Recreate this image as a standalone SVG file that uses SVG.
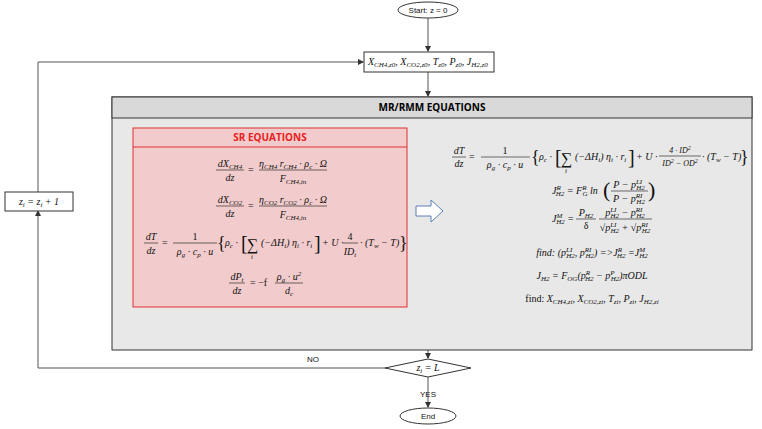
<svg xmlns="http://www.w3.org/2000/svg" width="762" height="429" viewBox="0 0 762 429">
<defs>
<marker id="ar" markerWidth="6" markerHeight="6" refX="5" refY="3" orient="auto"><path d="M0,0 L6,3 L0,6 z" fill="#333"/></marker>
<style>
.ln{stroke:#555;stroke-width:1;fill:none}
.m{font-family:"Liberation Serif",serif;font-size:10px;font-style:italic;fill:#111}
.f{stroke:#111;stroke-width:0.6}
.h{font-family:"Open Sans","Liberation Sans",sans-serif;font-weight:bold;font-size:10px;text-anchor:middle}
.s{font-family:"Liberation Sans",sans-serif;font-size:8px;text-anchor:middle;fill:#111}
.c{text-anchor:middle}
.b{font-size:7px}
</style>
</defs>
<rect width="762" height="429" fill="#fff"/>
<g id="connectors">
<line class="ln" x1="428" y1="18" x2="428" y2="51" marker-end="url(#ar)"/>
<line class="ln" x1="428" y1="72" x2="428" y2="96" marker-end="url(#ar)"/>
<line class="ln" x1="428" y1="350" x2="428" y2="358" marker-end="url(#ar)"/>
<line class="ln" x1="428" y1="377" x2="428" y2="407" marker-end="url(#ar)"/>
<polyline class="ln" points="386,368 38,368 38,211" marker-end="url(#ar)"/>
<polyline class="ln" points="38,192 38,62 363,62" marker-end="url(#ar)"/>
<text class="s" x="313" y="362">NO</text>
<text class="s" x="428" y="397">YES</text>
</g>
<g id="start"><ellipse cx="428" cy="10" rx="30" ry="8" fill="#fff" stroke="#333"/><text class="s" x="428" y="13">Start: z = 0</text></g>
<g id="init"><rect x="364" y="52" width="130" height="20" fill="#fff" stroke="#333"/>
<text class="m" x="368" y="65" font-size="9">X<tspan class="b" dy="2">CH4,z0</tspan><tspan dy="-2">, X</tspan><tspan class="b" dy="2">CO2,z0</tspan><tspan dy="-2">, T</tspan><tspan class="b" dy="2">z0</tspan><tspan dy="-2">, P</tspan><tspan class="b" dy="2">z0</tspan><tspan dy="-2">, J</tspan><tspan class="b" dy="2">H2,z0</tspan></text></g>
<g id="mr">
<rect x="112" y="97" width="640" height="253" fill="#e8e8e8" stroke="#333"/>
<rect x="112" y="97" width="640" height="21" fill="#d9d9d9" stroke="#333"/>
<text class="h" x="432" y="111">MR/RMM EQUATIONS</text>
</g>
<g id="mr-eqs" class="m">
<text x="459" y="154" class="c">dT</text><line class="f" x1="452" y1="157" x2="466" y2="157"/><text x="459" y="167" class="c">dz</text>
<text x="469" y="160" font-style="normal">=</text>
<text x="505" y="154" class="c" font-style="normal">1</text><line class="f" x1="481" y1="157" x2="530" y2="157"/>
<text x="505" y="168" class="c">ρ<tspan class="b" dy="2">g</tspan><tspan dy="-2"> · c</tspan><tspan class="b" dy="2">p</tspan><tspan dy="-2"> · u</tspan></text>
<text x="531" y="163" font-size="18" font-style="normal">{</text>
<text x="539" y="160">ρ<tspan class="b" dy="2">c</tspan><tspan dy="-2"> ·</tspan></text>
<text x="555" y="164" font-size="20" font-style="normal">[</text>
<text x="561" y="164" font-size="16" font-style="normal">∑</text><text x="565" y="173" class="b">i</text>
<text x="575" y="160">(−ΔH<tspan class="b" dy="2">i</tspan><tspan dy="-2">) η</tspan><tspan class="b" dy="2">i</tspan><tspan dy="-2"> · r</tspan><tspan class="b" dy="2">i</tspan></text>
<text x="628" y="164" font-size="20" font-style="normal">]</text>
<text x="636" y="160">+ U ·</text>
<text x="680" y="153" class="c" font-size="8">4 · ID<tspan font-size="6" dy="-3">2</tspan></text><line class="f" x1="659" y1="156" x2="701" y2="156"/>
<text x="680" y="166" class="c" font-size="8">ID<tspan font-size="6" dy="-3">2</tspan><tspan dy="3"> − OD</tspan><tspan font-size="6" dy="-3">2</tspan></text>
<text x="702" y="160">· (T<tspan class="b" dy="2">w</tspan><tspan dy="-2"> − T)</tspan></text>
<text x="740" y="163" font-size="18" font-style="normal">}</text>
<text x="552" y="194">J<tspan class="b" dy="-4">R</tspan><tspan class="b" dy="6" dx="-5">H2</tspan><tspan dy="-2"> = F</tspan><tspan class="b" dy="-4">R</tspan><tspan class="b" dy="6" dx="-4">G</tspan><tspan dy="-2"> ln</tspan></text>
<text x="603" y="197" font-size="22" font-style="normal">(</text>
<text x="629" y="188" class="c">P − p<tspan class="b" dy="-4">LI</tspan><tspan class="b" dy="6" dx="-6">H2</tspan></text><line class="f" x1="611" y1="191" x2="648" y2="191"/>
<text x="629" y="202" class="c">P − p<tspan class="b" dy="-4">RI</tspan><tspan class="b" dy="6" dx="-6">H2</tspan></text>
<text x="648" y="197" font-size="22" font-style="normal">)</text>
<text x="552" y="222">J<tspan class="b" dy="-4">M</tspan><tspan class="b" dy="6" dx="-6">H2</tspan><tspan dy="-2"> =</tspan></text>
<text x="586" y="216" class="c">P<tspan class="b" dy="2">H2</tspan></text><line class="f" x1="576" y1="219" x2="596" y2="219"/><text x="586" y="229" class="c" font-style="normal">δ</text>
<text x="625" y="216" class="c">p<tspan class="b" dy="-4">LI</tspan><tspan class="b" dy="6" dx="-6">H2</tspan><tspan dy="-2"> − p</tspan><tspan class="b" dy="-4">RI</tspan><tspan class="b" dy="6" dx="-6">H2</tspan></text><line class="f" x1="599" y1="219" x2="652" y2="219"/>
<text x="625" y="231" class="c">√p<tspan class="b" dy="-4">LI</tspan><tspan class="b" dy="6" dx="-6">H2</tspan><tspan dy="-2"> + √p</tspan><tspan class="b" dy="-4">RI</tspan><tspan class="b" dy="6" dx="-6">H2</tspan></text>
<text x="592" y="256" class="c">find: (p<tspan class="b" dy="-4">LI</tspan><tspan class="b" dy="6" dx="-6">H2</tspan><tspan dy="-2">, p</tspan><tspan class="b" dy="-4">RI</tspan><tspan class="b" dy="6" dx="-6">H2</tspan><tspan dy="-2">) =&gt;J</tspan><tspan class="b" dy="-4">R</tspan><tspan class="b" dy="6" dx="-5">H2</tspan><tspan dy="-2"> =J</tspan><tspan class="b" dy="-4">M</tspan><tspan class="b" dy="6" dx="-6">H2</tspan></text>
<text x="592" y="279" class="c">J<tspan class="b" dy="2">H2</tspan><tspan dy="-2"> = F</tspan><tspan class="b" dy="2">OG</tspan><tspan dy="-2">(p</tspan><tspan class="b" dy="-4">R</tspan><tspan class="b" dy="6" dx="-5">H2</tspan><tspan dy="-2"> − p</tspan><tspan class="b" dy="-4">P</tspan><tspan class="b" dy="6" dx="-4">H2</tspan><tspan dy="-2">)πODL</tspan></text>
<text x="592" y="302" class="c"><tspan font-style="normal">find: </tspan>X<tspan class="b" dy="2">CH4,zi</tspan><tspan dy="-2">, X</tspan><tspan class="b" dy="2">CO2,zi</tspan><tspan dy="-2">, T</tspan><tspan class="b" dy="2">zi</tspan><tspan dy="-2">, P</tspan><tspan class="b" dy="2">zi</tspan><tspan dy="-2">, J</tspan><tspan class="b" dy="2">H2,zi</tspan></text>
</g>
<g id="sr">
<rect x="133" y="128" width="274" height="179" fill="#f2cccc" stroke="#e03030"/>
<line x1="133" y1="147" x2="407" y2="147" stroke="#e03030"/>
<text class="h" x="270" y="141" fill="#e82020">SR EQUATIONS</text>
<g class="m">
<text x="230" y="167" class="c">dX<tspan class="b" dy="2">CH4</tspan></text><line class="f" x1="216" y1="170" x2="244" y2="170"/><text x="230" y="181" class="c">dz</text>
<text x="248" y="173" font-style="normal">=</text>
<text x="293" y="167" class="c">η<tspan class="b" dy="2">CH4</tspan><tspan dy="-2"> r</tspan><tspan class="b" dy="2">CH4</tspan><tspan dy="-2"> · ρ</tspan><tspan class="b" dy="2">c</tspan><tspan dy="-2"> · Ω</tspan></text><line class="f" x1="259" y1="170" x2="327" y2="170"/>
<text x="293" y="182" class="c">F<tspan class="b" dy="2">CH4,in</tspan></text>
<text x="230" y="203" class="c">dX<tspan class="b" dy="2">CO2</tspan></text><line class="f" x1="216" y1="206" x2="244" y2="206"/><text x="230" y="217" class="c">dz</text>
<text x="248" y="209" font-style="normal">=</text>
<text x="293" y="203" class="c">η<tspan class="b" dy="2">CO2</tspan><tspan dy="-2"> r</tspan><tspan class="b" dy="2">CO2</tspan><tspan dy="-2"> · ρ</tspan><tspan class="b" dy="2">c</tspan><tspan dy="-2"> · Ω</tspan></text><line class="f" x1="259" y1="206" x2="327" y2="206"/>
<text x="293" y="218" class="c">F<tspan class="b" dy="2">CH4,in</tspan></text>
<text x="151" y="240" class="c">dT</text><line class="f" x1="144" y1="243" x2="158" y2="243"/><text x="151" y="254" class="c">dz</text>
<text x="162" y="246" font-style="normal">=</text>
<text x="195" y="240" class="c" font-style="normal">1</text><line class="f" x1="173" y1="243" x2="217" y2="243"/>
<text x="195" y="255" class="c">ρ<tspan class="b" dy="2">g</tspan><tspan dy="-2"> · c</tspan><tspan class="b" dy="2">p</tspan><tspan dy="-2"> · u</tspan></text>
<text x="217" y="249" font-size="18" font-style="normal">{</text>
<text x="225" y="246">ρ<tspan class="b" dy="2">c</tspan><tspan dy="-2"> ·</tspan></text>
<text x="241" y="250" font-size="20" font-style="normal">[</text>
<text x="247" y="250" font-size="16" font-style="normal">∑</text><text x="251" y="259" class="b">i</text>
<text x="261" y="246">(−ΔH<tspan class="b" dy="2">i</tspan><tspan dy="-2">) η</tspan><tspan class="b" dy="2">i</tspan><tspan dy="-2"> · r</tspan><tspan class="b" dy="2">i</tspan></text>
<text x="314" y="250" font-size="20" font-style="normal">]</text>
<text x="322" y="246">+ U ·</text>
<text x="350" y="240" class="c" font-style="normal">4</text><line class="f" x1="343" y1="243" x2="358" y2="243"/><text x="350" y="255" class="c">ID<tspan class="b" dy="2">t</tspan></text>
<text x="360" y="246">· (T<tspan class="b" dy="2">w</tspan><tspan dy="-2"> − T)</tspan></text>
<text x="399" y="249" font-size="18" font-style="normal">}</text>
<text x="237" y="280" class="c">dP<tspan class="b" dy="2">t</tspan></text><line class="f" x1="229" y1="283" x2="245" y2="283"/><text x="237" y="294" class="c">dz</text>
<text x="250" y="286" font-style="normal">= −f</text>
<text x="289" y="280" class="c">ρ<tspan class="b" dy="2">g</tspan><tspan dy="-2"> · u</tspan><tspan class="b" dy="-4">2</tspan></text><line class="f" x1="275" y1="283" x2="303" y2="283"/><text x="289" y="294" class="c">d<tspan class="b" dy="2">c</tspan></text>
</g>
</g>
<g id="arrow"><path d="M416,206 L431,206 L431,200 L443,211 L431,222 L431,216 L416,216 z" fill="#fff" stroke="#5b7fb5"/></g>
<g id="incr"><rect x="5" y="192" width="68" height="19" fill="#fff" stroke="#333"/><text class="m c" x="39" y="205">z<tspan class="b" dy="2">i</tspan><tspan dy="-2"> = z</tspan><tspan class="b" dy="2">i</tspan><tspan dy="-2"> + 1</tspan></text></g>
<g id="decision"><polygon points="428,359 471,368 428,377 385,368" fill="#fff" stroke="#333"/><text class="m c" x="428" y="371">z<tspan class="b" dy="2">i</tspan><tspan dy="-2"> = L</tspan></text></g>
<g id="end"><ellipse cx="428" cy="416" rx="28" ry="8" fill="#fff" stroke="#333"/><text class="s" x="428" y="419">End</text></g>
</svg>
